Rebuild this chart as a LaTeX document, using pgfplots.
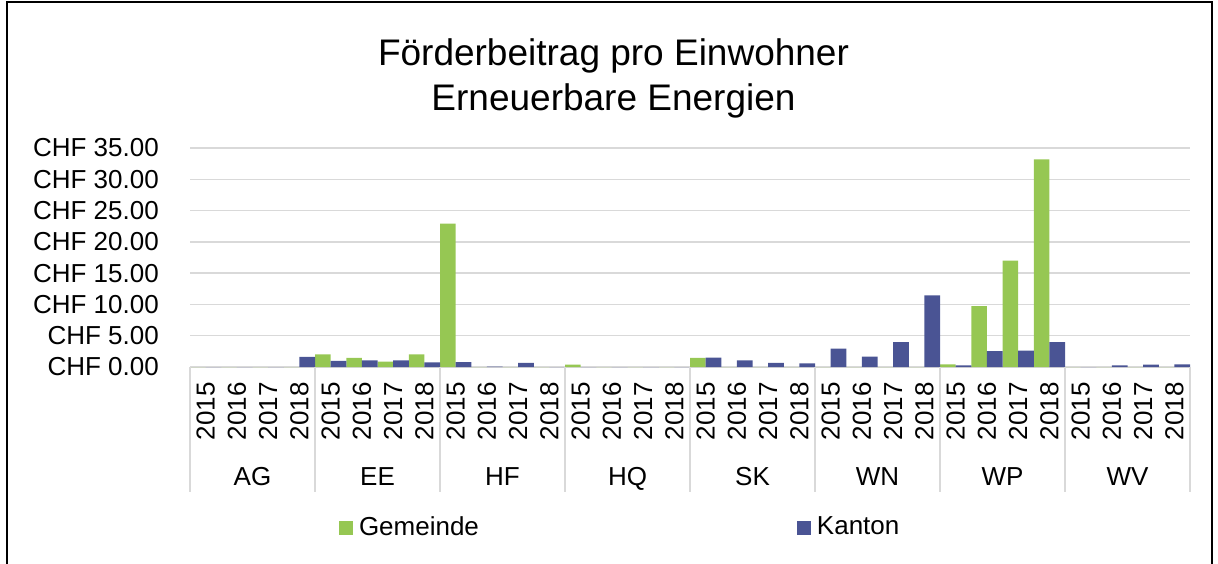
\documentclass[border=0pt]{standalone}
\usepackage{pgfplots}
\pgfplotsset{compat=1.18}
\usepackage{fontspec}
\setmainfont{Liberation Sans}
\definecolor{gem}{RGB}{150,199,83}
\definecolor{kan}{RGB}{74,84,148}
\definecolor{gridgray}{RGB}{217,217,217}
\begin{document}
\begin{tikzpicture}
\useasboundingbox (0pt,0pt) rectangle (609pt,281.5pt);
\draw[line width=0.9pt] (3.6pt,-20pt) rectangle (606pt,280.3pt);
\node[align=center, inner sep=0pt, anchor=north, font=\fontsize{18.5}{22.5}\selectfont] at (306.75pt,262.5pt) {Förderbeitrag pro Einwohner\\Erneuerbare Energien};
\begin{axis}[
  at={(95pt,98pt)}, anchor=south west,
  width=500pt, height=109.5pt, scale only axis,
  xmin=-0.5, xmax=31.5, ymin=0, ymax=35,
  ybar, bar width=0.5,
  clip=false,
  axis line style={draw=none},
  tick style={draw=none}, major tick length=0pt,
  ymajorgrids, grid style={color=gridgray, line width=0.75pt},
  xtick={0,...,31},
  xticklabels={2015,2016,2017,2018,2015,2016,2017,2018,2015,2016,2017,2018,2015,2016,2017,2018,2015,2016,2017,2018,2015,2016,2017,2018,2015,2016,2017,2018,2015,2016,2017,2018},
  xticklabel style={rotate=90, anchor=east, inner sep=0pt, font=\fontsize{13}{15}\selectfont},
  xticklabel shift=7.5pt,
  ytick={0,5,10,15,20,25,30,35},
  yticklabels={CHF 0.00,CHF 5.00,CHF 10.00,CHF 15.00,CHF 20.00,CHF 25.00,CHF 30.00,CHF 35.00},
  yticklabel style={anchor=east, inner sep=0pt, font=\fontsize{13}{15}\selectfont},
  yticklabel shift=15.4pt,
  legend columns=2,
  legend style={draw=none, fill=none, inner sep=0pt, outer sep=0pt,
    at={(rel axis cs:0.149,-0.733)}, anchor=west,
    font=\fontsize{13}{15}\selectfont,
    nodes={inner sep=0pt},
    /tikz/column sep=0pt,
    /tikz/every odd column/.append style={column sep=3pt},
    /tikz/every even column/.append style={column sep=159pt}},
  legend image code/.code={\fill[#1] (0pt,-3.5pt) rectangle (7pt,3.5pt);},
]
\addplot[fill=gem, draw=none, bar shift=-0.25] coordinates {
(0,0) (1,0) (2,0) (3,0)
(4,2.0) (5,1.45) (6,0.86) (7,2.0)
(8,22.9) (9,0) (10,0) (11,0)
(12,0.37) (13,0) (14,0) (15,0)
(16,1.45) (17,0) (18,0) (19,0)
(20,0) (21,0) (22,0) (23,0)
(24,0.43) (25,9.73) (26,17.0) (27,33.2)
(28,0) (29,0) (30,0) (31,0)};
\addlegendentry{Gemeinde}
\addplot[fill=kan, draw=none, bar shift=0.25] coordinates {
(0,0) (1,0) (2,0) (3,1.6)
(4,1.0) (5,1.07) (6,1.07) (7,0.75)
(8,0.8) (9,0.08) (10,0.65) (11,0)
(12,0) (13,0) (14,0) (15,0)
(16,1.5) (17,1.07) (18,0.65) (19,0.6)
(20,2.93) (21,1.65) (22,3.99) (23,11.44)
(24,0.27) (25,2.55) (26,2.6) (27,3.99)
(28,0) (29,0.27) (30,0.37) (31,0.43)};
\addlegendentry{Kanton}
\draw[gridgray, line width=0.75pt] (axis cs:-0.5,0) -- (axis cs:-0.5,-20);
\draw[gridgray, line width=0.75pt] (axis cs:3.5,0) -- (axis cs:3.5,-20);
\draw[gridgray, line width=0.75pt] (axis cs:7.5,0) -- (axis cs:7.5,-20);
\draw[gridgray, line width=0.75pt] (axis cs:11.5,0) -- (axis cs:11.5,-20);
\draw[gridgray, line width=0.75pt] (axis cs:15.5,0) -- (axis cs:15.5,-20);
\draw[gridgray, line width=0.75pt] (axis cs:19.5,0) -- (axis cs:19.5,-20);
\draw[gridgray, line width=0.75pt] (axis cs:23.5,0) -- (axis cs:23.5,-20);
\draw[gridgray, line width=0.75pt] (axis cs:27.5,0) -- (axis cs:27.5,-20);
\draw[gridgray, line width=0.75pt] (axis cs:31.5,0) -- (axis cs:31.5,-20);
\node[font=\fontsize{13}{15}\selectfont, inner sep=0pt, anchor=base] at (axis cs:1.5,-18.9) {AG};
\node[font=\fontsize{13}{15}\selectfont, inner sep=0pt, anchor=base] at (axis cs:5.5,-18.9) {EE};
\node[font=\fontsize{13}{15}\selectfont, inner sep=0pt, anchor=base] at (axis cs:9.5,-18.9) {HF};
\node[font=\fontsize{13}{15}\selectfont, inner sep=0pt, anchor=base] at (axis cs:13.5,-18.9) {HQ};
\node[font=\fontsize{13}{15}\selectfont, inner sep=0pt, anchor=base] at (axis cs:17.5,-18.9) {SK};
\node[font=\fontsize{13}{15}\selectfont, inner sep=0pt, anchor=base] at (axis cs:21.5,-18.9) {WN};
\node[font=\fontsize{13}{15}\selectfont, inner sep=0pt, anchor=base] at (axis cs:25.5,-18.9) {WP};
\node[font=\fontsize{13}{15}\selectfont, inner sep=0pt, anchor=base] at (axis cs:29.5,-18.9) {WV};
\end{axis}
\end{tikzpicture}
\end{document}
